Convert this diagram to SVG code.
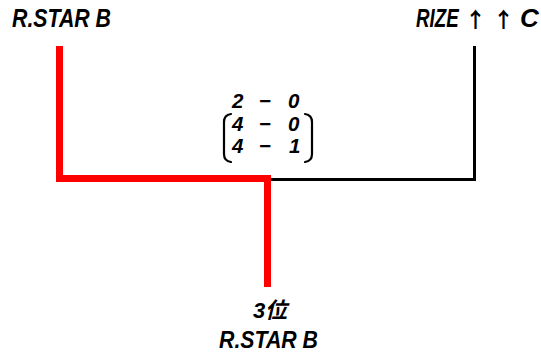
<svg xmlns="http://www.w3.org/2000/svg" width="541" height="356" viewBox="0 0 541 356">
<style>
.t{font-family:"Liberation Sans","Noto Sans CJK JP",sans-serif;font-weight:bold;font-style:italic;fill:#000;}
.arr{font-family:"Noto Sans CJK JP",sans-serif;font-style:normal;font-weight:bold;fill:#000;}
.par{fill:none;stroke:#000;stroke-width:2.2;stroke-linecap:round;}
.red{fill:none;stroke:#ff0000;stroke-width:7;stroke-linejoin:miter;}
.blk{fill:none;stroke:#000;stroke-width:3;stroke-linejoin:miter;}
</style>
<rect width="541" height="356" fill="#fff"/>
<g id="connectors">
<path class="blk" d="M474.5 46 V179.5 H271"/>
<path class="red" d="M59.5 46 V178.5 H267.5 V287"/>
</g>
<g id="team-left">
<text class="t" x="12" y="27" font-size="26" textLength="99" lengthAdjust="spacingAndGlyphs">R.STAR B</text>
</g>
<g id="team-right">
<text class="t" transform="translate(416 27) scale(0.72 1)" font-size="26">RIZE</text>
<text class="arr" x="465" y="27" font-size="21">↑</text>
<text class="arr" x="493" y="27" font-size="21">↑</text>
<text class="t" x="520" y="27" font-size="26">C</text>
</g>
<g id="score">
<text class="t" font-size="20.5" x="232 259 288" y="108">2−0</text>
<text class="t" font-size="20.5" x="232 259 288" y="130.5">4−0</text>
<text class="t" font-size="20.5" x="232 259 289" y="153">4−1</text>
<path class="par" d="M231 114 Q224 115 224 122 V154 Q224 161 231 162"/>
<path class="par" d="M305 114 Q312 115 312 122 V154 Q312 161 305 162"/>
</g>
<g id="winner">
<text class="t" x="270" y="318" text-anchor="middle" font-size="22">3位</text>
<text class="t" x="219" y="348" font-size="24" textLength="99" lengthAdjust="spacingAndGlyphs">R.STAR B</text>
</g>
</svg>
